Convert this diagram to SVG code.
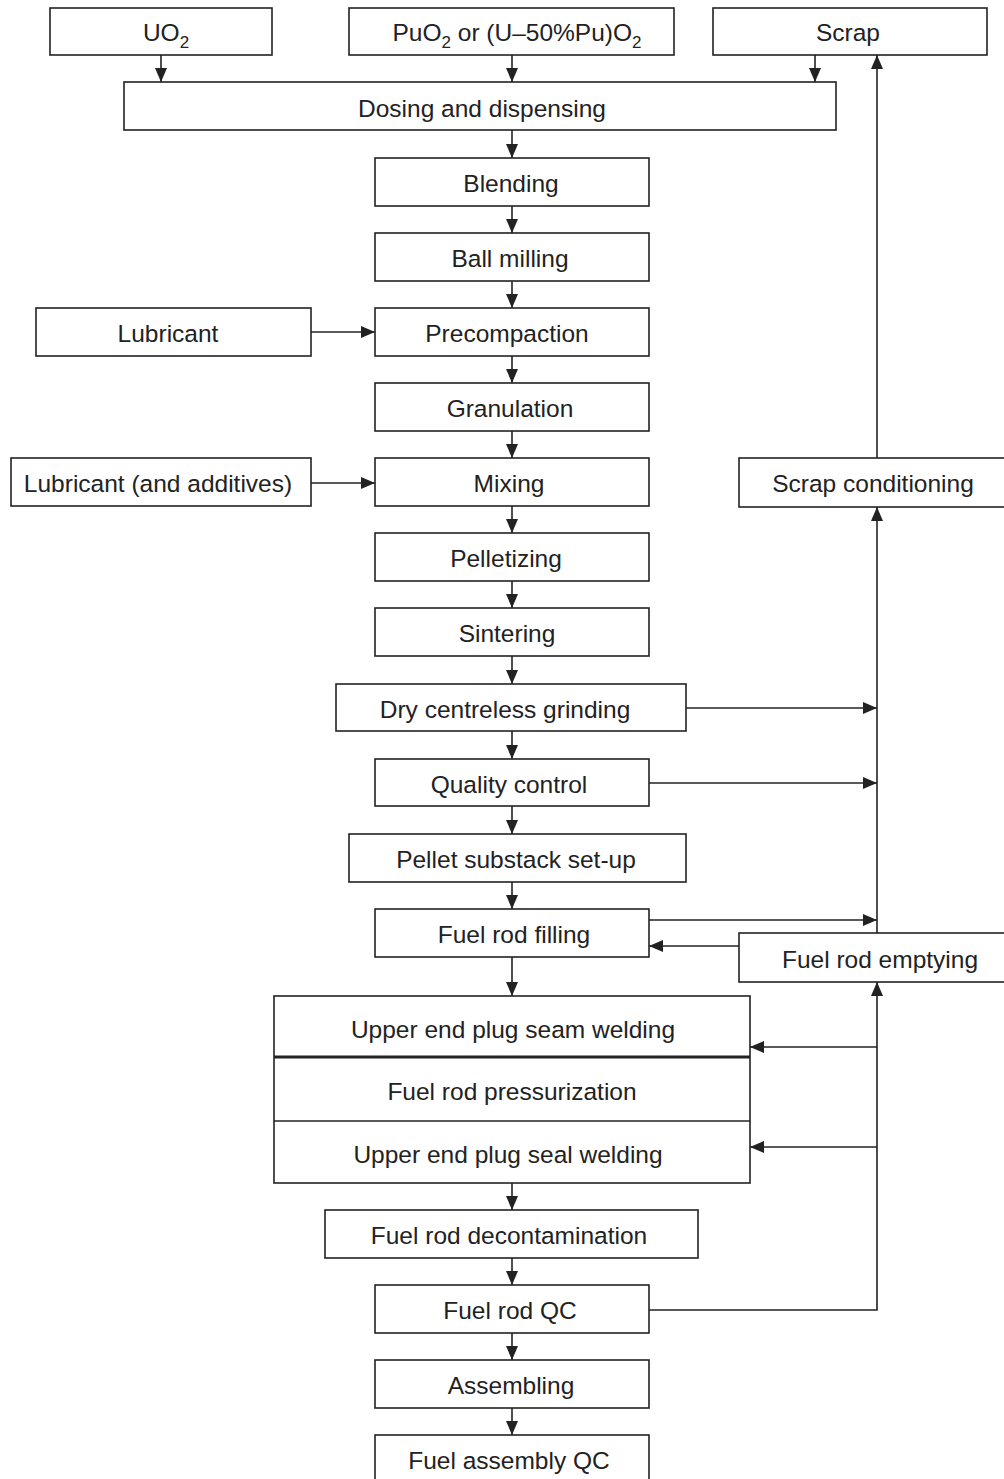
<svg xmlns="http://www.w3.org/2000/svg" width="1004" height="1479" viewBox="0 0 1004 1479">
<style>
  rect { fill: #fff; stroke: #222; stroke-width: 1.6; }
  text { font-family: "Liberation Sans", Arial, sans-serif; font-size: 24.5px; fill: #222; text-anchor: middle; }
  .c path, .c line { stroke: #222; stroke-width: 1.6; fill: none; }
  .c .a { marker-end: url(#ah); }
</style>
<defs>
  <marker id="ah" viewBox="0 0 14 12" refX="14" refY="6" markerWidth="14" markerHeight="12" markerUnits="userSpaceOnUse" orient="auto">
    <path d="M0,0 L14,6 L0,12 z" fill="#222" stroke="none"/>
  </marker>
</defs>
<g class="c" id="connectors">
  <path class="a" d="M161,55 V82"/>
  <path class="a" d="M512,55 V82"/>
  <path class="a" d="M815,55 V82"/>
  <path class="a" d="M512,130 V158"/>
  <path class="a" d="M512,206 V233"/>
  <path class="a" d="M512,281 V308"/>
  <path class="a" d="M512,356 V383"/>
  <path class="a" d="M512,431 V458"/>
  <path class="a" d="M512,506 V533"/>
  <path class="a" d="M512,581 V608"/>
  <path class="a" d="M512,656 V684"/>
  <path class="a" d="M512,731 V759"/>
  <path class="a" d="M512,806 V834"/>
  <path class="a" d="M512,882 V909"/>
  <path class="a" d="M512,957 V996"/>
  <path class="a" d="M512,1183 V1210"/>
  <path class="a" d="M512,1258 V1285"/>
  <path class="a" d="M512,1333 V1360"/>
  <path class="a" d="M512,1408 V1435"/>
  <path class="a" d="M311,332 H375"/>
  <path class="a" d="M311,483 H375"/>
  <path class="a" d="M877,458 V55"/>
  <path class="a" d="M877,933 V507"/>
  <path class="a" d="M686,708 H877"/>
  <path class="a" d="M649,783 H877"/>
  <path class="a" d="M649,920 H877"/>
  <path class="a" d="M739,946 H649"/>
  <path class="a" d="M649,1310 H877 V982"/>
  <path class="a" d="M877,1047 H750"/>
  <path class="a" d="M877,1147 H750"/>
</g>
<g id="uo2"><rect x="50" y="8" width="222" height="47"/><text x="166" y="41">UO<tspan dy="7" font-size="17">2</tspan></text></g>
<g id="puo2"><rect x="349" y="8" width="325" height="47"/><text x="517" y="41">PuO<tspan dy="7" font-size="17">2</tspan><tspan dy="-7"> or (U–50%Pu)O</tspan><tspan dy="7" font-size="17">2</tspan></text></g>
<g id="scrap"><rect x="713" y="8" width="274" height="47"/><text x="848" y="41">Scrap</text></g>
<g id="dosing"><rect x="124" y="82" width="712" height="48"/><text x="482" y="117">Dosing and dispensing</text></g>
<g id="blending"><rect x="375" y="158" width="274" height="48"/><text x="511" y="192">Blending</text></g>
<g id="ballmilling"><rect x="375" y="233" width="274" height="48"/><text x="510" y="267">Ball milling</text></g>
<g id="lubricant"><rect x="36" y="308" width="275" height="48"/><text x="168" y="342">Lubricant</text></g>
<g id="precompaction"><rect x="375" y="308" width="274" height="48"/><text x="507" y="342">Precompaction</text></g>
<g id="granulation"><rect x="375" y="383" width="274" height="48"/><text x="510" y="417">Granulation</text></g>
<g id="lubadd"><rect x="11" y="458" width="300" height="48"/><text x="158" y="492">Lubricant (and additives)</text></g>
<g id="mixing"><rect x="375" y="458" width="274" height="48"/><text x="509" y="492">Mixing</text></g>
<g id="scrapcond"><rect x="739" y="458" width="275" height="49"/><text x="873" y="492">Scrap conditioning</text></g>
<g id="pelletizing"><rect x="375" y="533" width="274" height="48"/><text x="506" y="567">Pelletizing</text></g>
<g id="sintering"><rect x="375" y="608" width="274" height="48"/><text x="507" y="642">Sintering</text></g>
<g id="grinding"><rect x="336" y="684" width="350" height="47"/><text x="505" y="718">Dry centreless grinding</text></g>
<g id="qc"><rect x="375" y="759" width="274" height="47"/><text x="509" y="793">Quality control</text></g>
<g id="substack"><rect x="349" y="834" width="337" height="48"/><text x="516" y="868">Pellet substack set-up</text></g>
<g id="filling"><rect x="375" y="909" width="274" height="48"/><text x="514" y="943">Fuel rod filling</text></g>
<g id="emptying"><rect x="739" y="933" width="275" height="49"/><text x="880" y="968">Fuel rod emptying</text></g>
<g id="welding">
  <rect x="274" y="996" width="476" height="187"/>
  <line x1="274" y1="1057" x2="750" y2="1057" stroke="#222" stroke-width="3"/>
  <line x1="274" y1="1121" x2="750" y2="1121" stroke="#222" stroke-width="1.6"/>
  <text x="513" y="1038">Upper end plug seam welding</text>
  <text x="512" y="1100">Fuel rod pressurization</text>
  <text x="508" y="1163">Upper end plug seal welding</text>
</g>
<g id="decon"><rect x="325" y="1210" width="373" height="48"/><text x="509" y="1244">Fuel rod decontamination</text></g>
<g id="rodqc"><rect x="375" y="1285" width="274" height="48"/><text x="510" y="1319">Fuel rod QC</text></g>
<g id="assembling"><rect x="375" y="1360" width="274" height="48"/><text x="511" y="1394">Assembling</text></g>
<g id="assemblyqc"><rect x="375" y="1435" width="274" height="60"/><text x="509" y="1469">Fuel assembly QC</text></g>
</svg>
